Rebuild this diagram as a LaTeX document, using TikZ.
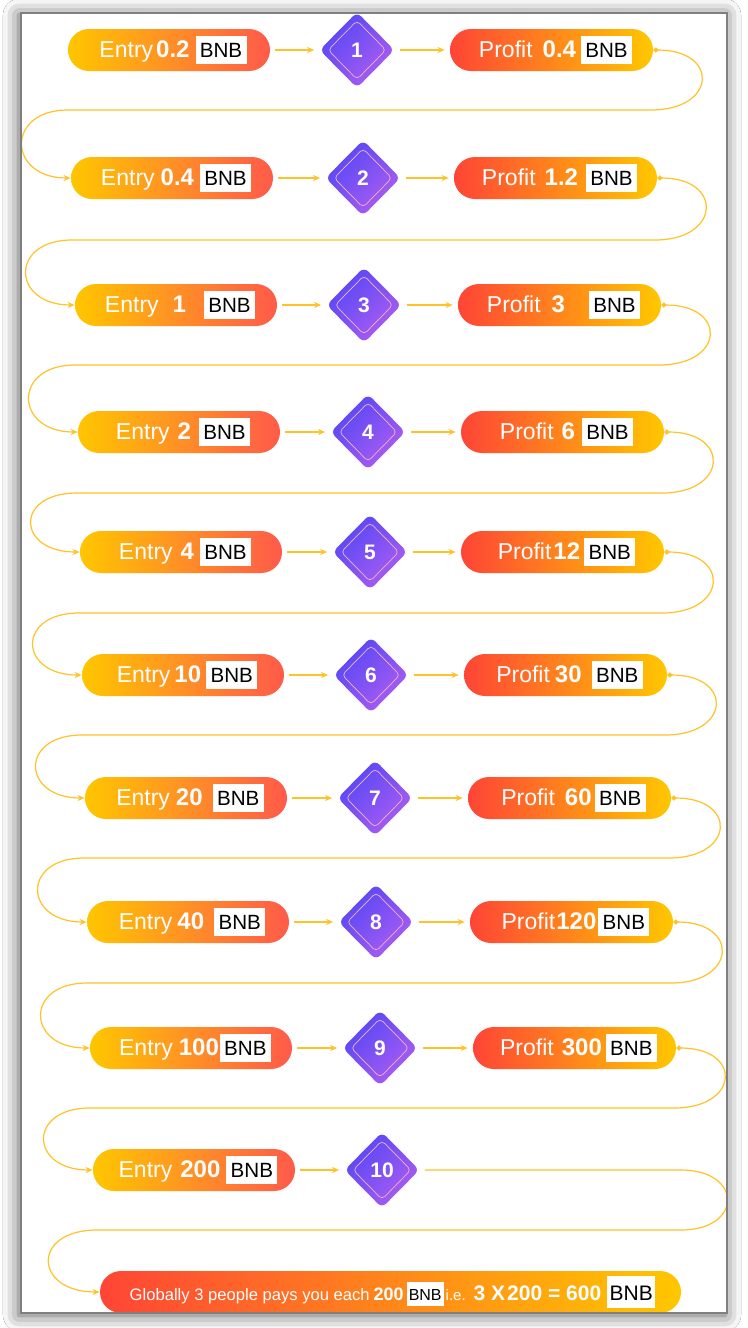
\documentclass[tikz,border=0pt]{standalone}
\usepackage{fontspec}
\setmainfont{Liberation Sans}
\usetikzlibrary{shapes.geometric,arrows.meta,shadows.blur}
\definecolor{entL}{HTML}{FFC600}
\definecolor{entR}{HTML}{FF5A4A}
\definecolor{proL}{HTML}{FF4536}
\definecolor{proR}{HTML}{FFC700}
\definecolor{diaTL}{HTML}{5447F6}
\definecolor{diaBR}{HTML}{AD5DF1}
\definecolor{diaIn}{HTML}{F2B6C2}
\definecolor{conn}{HTML}{FFC227}
\definecolor{framec}{HTML}{7F7F7F}
\newcommand{\nm}[1]{{\fontsize{12}{12}\selectfont\bfseries #1}}
\newcommand{\bnbgen}[4]{{\fontsize{#1}{#1}\selectfont\setlength{\fboxsep}{0pt}\colorbox{white}{\makebox[#2]{\rule[-#4]{0pt}{#3}\color{black}BNB}}}}
\newcommand{\bnb}{\bnbgen{10.3pt}{25.5pt}{14pt}{3.3pt}}
\begin{document}
\begin{tikzpicture}[x=0.5pt,y=-0.5pt,
  entrypill/.style={rectangle, rounded corners=10.5pt, minimum width=101pt, minimum height=21pt, inner sep=0pt, left color=entL, right color=entR, text=white, font=\fontsize{11.5}{12}\selectfont},
  profpill/.style={rectangle, rounded corners=10.5pt, minimum width=101.5pt, minimum height=21pt, inner sep=0pt, left color=proL, right color=proR, text=white, font=\fontsize{11.5}{12}\selectfont},
  finalpill/.style={rectangle, rounded corners=10.5pt, minimum width=290.5pt, minimum height=21pt, inner sep=0pt, left color=proL, right color=proR, text=white},
  dia/.style={diamond, minimum width=37.5pt, minimum height=38pt, inner sep=0pt, rounded corners=3pt, top color=diaTL, bottom color=diaBR, shading angle=45},
  diain/.style={diamond, minimum width=29pt, minimum height=29.5pt, inner sep=0pt, rounded corners=2pt, draw=diaIn, line width=0.35pt, text=white, font=\fontsize{10.5}{11}\selectfont\bfseries},
  flow/.style={draw=conn, line width=0.6pt, -{Stealth[length=3.5pt,width=3pt]}, shorten <=2.5pt, shorten >=2.5pt},
  loopc/.style={draw=conn, line width=0.6pt, {Circle[length=2.5pt]}-{Stealth[length=3.5pt,width=3pt]}},
  loopd/.style={draw=conn, line width=0.6pt, -{Stealth[length=3.5pt,width=3pt]}, shorten <=2.5pt}
]
\useasboundingbox (0,0) rectangle (748,1328);
\fill[white] (0,0) rectangle (748,1328);
\fill[white, blur shadow={shadow xshift=-1pt, shadow yshift=-1pt, shadow blur radius=8pt, shadow opacity=65}] (21,13) rectangle (727,1313);

\foreach \i/\y/\el/\dx/\pl/\et/\pt/\hy/\nl in {
1/50/68/357/450/{Entry\hspace{1.5pt}\nm{0.2}\hspace{3pt}\bnb}/{Profit\hspace{5pt}\nm{0.4}\hspace{2.5pt}\bnb}/110/71,
2/178/71/363/454/{Entry\hspace{3pt}\nm{0.4}\hspace{3pt}\bnb}/{Profit\hspace{4.5pt}\nm{1.2}\hspace{4pt}\bnb}/240/75,
3/305/75/364/458/{Entry\hspace{7pt}\nm{1}\hspace{9pt}\bnb}/{Profit\hspace{5.5pt}\nm{3}\hspace{12pt}\bnb}/365/78,
4/432/78/368/461/{Entry\hspace{4pt}\nm{2}\hspace{4pt}\bnb}/{Profit\hspace{4pt}\nm{6}\hspace{3.5pt}\bnb}/493/80,
5/552/80/370/461/{Entry\hspace{4pt}\nm{4}\hspace{3pt}\bnb}/{Profit\hspace{1pt}\nm{12}\hspace{2pt}\bnb}/613/82,
6/675/82/371/464/{Entry\hspace{2pt}\nm{10}\hspace{2.5pt}\bnb}/{Profit\hspace{2.5pt}\nm{30}\hspace{5pt}\bnb}/735/85,
7/798/85/375/468/{Entry\hspace{3pt}\nm{20}\hspace{5pt}\bnb}/{Profit\hspace{5pt}\nm{60}\hspace{1.5pt}\bnb}/858/87,
8/922/87/376/470/{Entry\hspace{2.5pt}\nm{40}\hspace{5pt}\bnb}/{Profit\hspace{0.5pt}\nm{120}\hspace{1pt}\bnb}/983/90,
9/1048/90/380/473/{Entry\hspace{3pt}\nm{100}\hspace{0.5pt}\bnb}/{Profit\hspace{4pt}\nm{300}\hspace{2pt}\bnb}/1108/93}{
  \node[entrypill] (e\i) at (\el+101,\y) {\hspace{4pt}\et};
  \node[dia] (d\i) at (\dx,\y) {};
  \node[diain] (n\i) at (\dx,\y) {\i};
  \node[profpill] (p\i) at (\pl+101.5,\y) {\hspace{4pt}\pt};
  \coordinate (hr\i) at (\pl+201,\hy);
  \coordinate (hl\i) at (\nl-3,\hy);
  \draw[flow] (e\i.east) -- (d\i.west);
  \draw[flow] (d\i.east) -- (p\i.west);
}

% row 10
\node[entrypill] (e10) at (194,1170) {\hspace{4pt}Entry\hspace{4pt}\nm{200}\hspace{3pt}\bnb};
\node[dia] (d10) at (382,1170) {};
\node[diain] (n10) at (382,1170) {10};
\draw[flow] (e10.east) -- (d10.west);
\coordinate (r10a) at (681,1170);
\coordinate (r10b) at (681,1230);
\coordinate (hl10) at (97,1230);

% final
\node[finalpill] (f) at (390.5,1292) {\hspace{2pt}\fontsize{8.3}{9}\selectfont Globally 3 people pays you each\hspace{2pt}{\bfseries\fontsize{9}{9}\selectfont 200}\hspace{1.5pt}\bnbgen{8pt}{18.5pt}{12pt}{2.7pt}\hspace{1pt}{\fontsize{7.5}{8}\selectfont i.e.}\hspace{4pt}{\bfseries\fontsize{10.5}{11}\selectfont 3 X\hspace{1pt}200 = 600}\hspace{3pt}\bnbgen{10.5pt}{24pt}{16pt}{3.8pt}};

% loops
\foreach \i in {1,...,9}{
  \pgfmathtruncatemacro\j{\i+1}
  \draw[loopc] (p\i.east) .. controls +(66,0) and +(66,0) .. (hr\i) -- (hl\i) .. controls +(-63,0) and +(-63,0) .. (e\j.west);
}
\draw[loopd] (d10.east) -- (r10a) .. controls +(62,0) and +(62,0) .. (r10b) -- (hl10) .. controls +(-66,0) and +(-66,0) .. (f.west);

\draw[framec, line width=1pt] (21,13) rectangle (727,1313);
\end{tikzpicture}
\end{document}
